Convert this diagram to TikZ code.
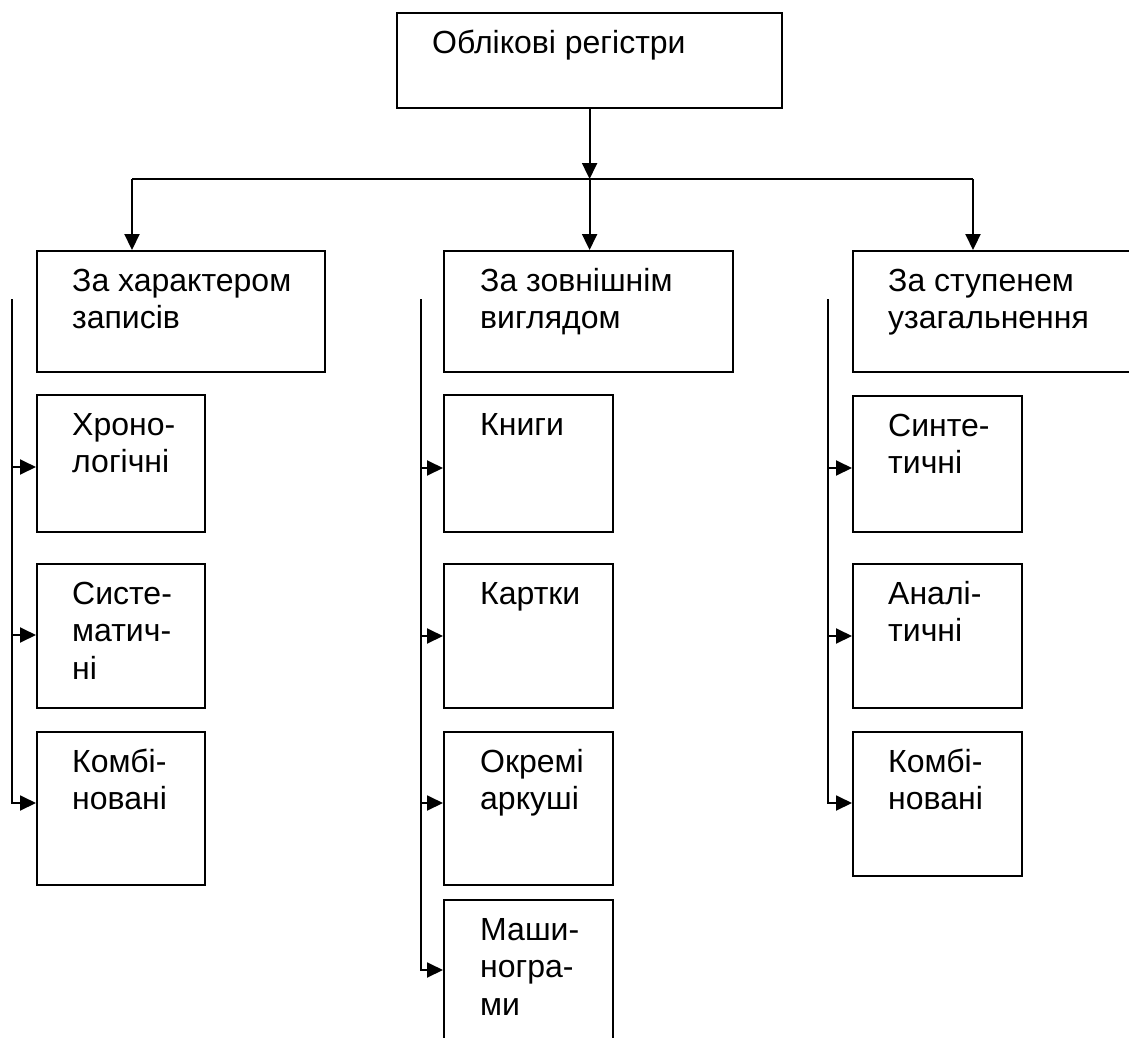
\documentclass[tikz,border=0pt]{standalone}
\usepackage{fontspec}
\setmainfont{Liberation Sans}
\usetikzlibrary{arrows.meta,calc}
\begin{document}
\begin{tikzpicture}[x=1pt,y=-1pt,
  box/.style={draw, line width=2.2pt, anchor=north west, inner sep=0pt},
  lbl/.style={anchor=north west, inner sep=0pt, align=left, font=\fontsize{32}{37.5}\selectfont},
  arr/.style={line width=2.2pt, -{Triangle[length=16pt,width=15pt]}},
  farr/.style={line width=1.9pt, -{Triangle[length=16pt,width=15pt]}},
  conn/.style={line width=2.2pt}]
\clip (0,0) rectangle (1129,1038);
\fill[white] (0,0) rectangle (1129,1038);

% top box
\node[box, minimum width=385pt, minimum height=95pt] (top) at (396,12) {};
\node[lbl] (ttop) at ($(top.north west)+(36,14.75)$) {\strut Облікові регістри};

% level 1 boxes
\node[box, minimum width=288pt, minimum height=121pt] (L0) at (36,250) {};
\node[box, minimum width=289pt, minimum height=121pt] (M0) at (443,250) {};
\node[box, minimum width=300pt, minimum height=121pt] (R0) at (852,250) {};
\node[lbl] (tL0) at ($(L0.north west)+(36,14.75)$) {\strut За характером\\записів};
\node[lbl] (tM0) at ($(M0.north west)+(37,14.75)$) {\strut За зовнішнім\\виглядом};
\node[lbl] (tR0) at ($(R0.north west)+(36,14.75)$) {\strut За ступенем\\узагальнення};

% left column
\node[box, minimum width=168pt, minimum height=137pt] (L1) at (36,394) {};
\node[box, minimum width=168pt, minimum height=144pt] (L2) at (36,563) {};
\node[box, minimum width=168pt, minimum height=153pt] (L3) at (36,731) {};
\node[lbl] (tL1) at ($(L1.north west)+(36,14.75)$) {\strut Хроно-\\логічні};
\node[lbl] (tL2) at ($(L2.north west)+(36,14.75)$) {\strut Систе-\\матич-\\ні};
\node[lbl] (tL3) at ($(L3.north west)+(36,14.75)$) {\strut Комбі-\\новані};

% middle column
\node[box, minimum width=169pt, minimum height=137pt] (M1) at (443,394) {};
\node[box, minimum width=169pt, minimum height=144pt] (M2) at (443,563) {};
\node[box, minimum width=169pt, minimum height=153pt] (M3) at (443,731) {};
\node[box, minimum width=169pt, minimum height=170pt] (M4) at (443,899) {};
\node[lbl] (tM1) at ($(M1.north west)+(37,14.75)$) {\strut Книги};
\node[lbl] (tM2) at ($(M2.north west)+(37,14.75)$) {\strut Картки};
\node[lbl] (tM3) at ($(M3.north west)+(37,14.75)$) {\strut Окремі\\аркуші};
\node[lbl] (tM4) at ($(M4.north west)+(37,14.75)$) {\strut Маши-\\ногра-\\ми};

% right column
\node[box, minimum width=169pt, minimum height=136pt] (R1) at (852,395) {};
\node[box, minimum width=169pt, minimum height=144pt] (R2) at (852,563) {};
\node[box, minimum width=169pt, minimum height=144pt] (R3) at (852,731) {};
\node[lbl] (tR1) at ($(R1.north west)+(36,14.75)$) {\strut Синте-\\тичні};
\node[lbl] (tR2) at ($(R2.north west)+(36,14.75)$) {\strut Аналі-\\тичні};
\node[lbl] (tR3) at ($(R3.north west)+(36,14.75)$) {\strut Комбі-\\новані};

% top connectors
\coordinate (jL) at (132,179);
\coordinate (jR) at (973,179);
\coordinate (jM) at (top.south |- jL);
\draw[arr] (top.south) -- (jM);
\draw[conn] (jL) -- (jR);
\draw[arr] (jL) -- (jL |- L0.north);
\draw[arr] (jM) -- (jM |- M0.north);
\draw[arr] (jR) -- (jR |- R0.north);

% left feeder
\coordinate (fL) at (12,299);
\draw[farr] (fL) |- (L3.west |- 0,803);
\draw[farr] (fL |- 0,467) -- (L1.west |- 0,467);
\draw[farr] (fL |- 0,635) -- (L2.west |- 0,635);

% middle feeder
\coordinate (fM) at (421,299);
\draw[farr] (fM) |- (M4.west |- 0,970);
\draw[farr] (fM |- 0,468) -- (M1.west |- 0,468);
\draw[farr] (fM |- 0,636) -- (M2.west |- 0,636);
\draw[farr] (fM |- 0,803) -- (M3.west |- 0,803);

% right feeder
\coordinate (fR) at (828,299);
\draw[farr] (fR) |- (R3.west |- 0,803);
\draw[farr] (fR |- 0,468) -- (R1.west |- 0,468);
\draw[farr] (fR |- 0,636) -- (R2.west |- 0,636);
\end{tikzpicture}
\end{document}
